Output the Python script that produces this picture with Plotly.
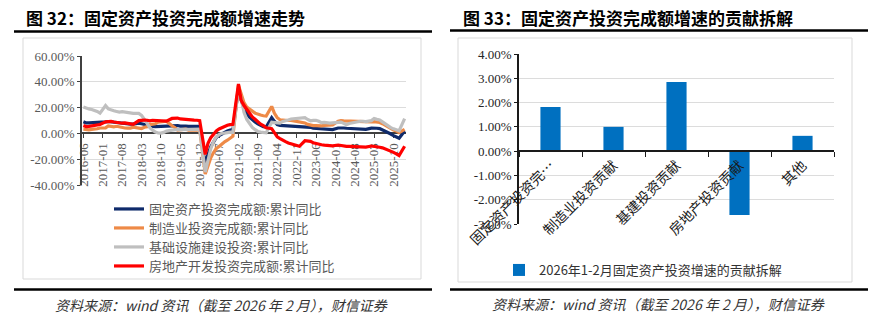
import plotly.graph_objects as go

W, H = 885, 321


def fx(x):
    return x / W


def fy(y):
    return 1 - y / H


# ---------------- data: left chart (cumulative YoY, %) ----------------
months = []
for yr in range(2016, 2027):
    for m in range(1, 13):
        if (yr == 2016 and m < 6) or (yr == 2026 and m > 2):
            continue
        months.append(f"{yr}-{m:02d}")

x_ticks = ["2016-06", "2017-01", "2017-08", "2018-03", "2018-10", "2019-05",
           "2019-12", "2020-07", "2021-02", "2021-09", "2022-04", "2022-11",
           "2023-06", "2024-01", "2024-08", "2025-03", "2025-10"]

fai = [9.0, 8.1, 8.1, 8.2, 8.3, 8.3, 8.1,
       None, 8.9, 9.2, 8.9, 8.6, 8.6, 8.3, 7.8, 7.5, 7.3, 7.2, 7.2,
       None, 7.9, 7.5, 7.0, 6.1, 6.0, 5.5, 5.3, 5.4, 5.7, 5.9, 5.9,
       None, 6.1, 6.3, 6.1, 5.6, 5.8, 5.7, 5.5, 5.4, 5.2, 5.2, 5.4,
       None, -24.5, -16.1, -10.3, -6.3, -3.1, -1.6, -0.3, 0.8, 1.8, 2.6, 2.9,
       None, 35.0, 25.6, 19.9, 15.4, 12.6, 10.3, 8.9, 7.3, 6.1, 5.2, 4.9,
       None, 12.2, 9.3, 6.8, 6.2, 6.1, 5.7, 5.8, 5.9, 5.8, 5.3, 5.1,
       None, 5.5, 5.1, 4.7, 4.0, 3.8, 3.4, 3.2, 3.1, 2.9, 2.9, 3.0,
       None, 4.2, 4.5, 4.2, 4.0, 3.9, 3.6, 3.4, 3.4, 3.4, 3.3, 3.2,
       None, 4.1, 4.2, 4.0, 3.7, 2.8, 1.6, 0.5, -0.5, -1.7, -2.6, -3.8,
       None, 1.8]

mfg = [3.3, 2.9, 2.8, 3.1, 3.1, 3.6, 4.2,
       None, 4.3, 5.8, 5.5, 5.1, 5.5, 4.9, 4.5, 4.2, 4.1, 4.1, 4.8,
       None, 4.3, 3.8, 4.8, 5.2, 6.8, 7.3, 7.5, 8.7, 9.1, 9.5, 9.5,
       None, 5.9, 4.6, 2.5, 2.7, 3.0, 3.3, 2.6, 2.5, 2.6, 2.5, 3.1,
       None, -31.5, -25.2, -18.8, -14.8, -11.7, -10.2, -8.1, -6.5, -5.3, -3.5, -2.2,
       None, 37.3, 29.8, 23.8, 20.4, 19.2, 17.3, 15.7, 14.8, 14.2, 13.7, 13.5,
       None, 20.9, 15.6, 12.2, 10.6, 10.4, 9.9, 10.0, 10.1, 9.7, 9.3, 9.1,
       None, 8.1, 7.0, 6.4, 6.0, 6.0, 5.7, 5.9, 6.2, 6.2, 6.3, 6.5,
       None, 9.4, 9.9, 9.7, 9.6, 9.5, 9.3, 9.1, 9.2, 9.3, 9.3, 9.2,
       None, 9.0, 9.1, 8.8, 8.5, 7.5, 6.2, 5.1, 4.0, 2.7, 1.9, 0.6,
       None, 3.1]

infra = [20.5, 19.5, 19.0, 18.5, 18.0, 17.0, 15.7,
         None, 21.5, 19.0, 18.0, 17.5, 17.0, 16.5, 16.8, 16.5, 16.0, 15.8, 15.5,
         None, 15.5, 14.0, 11.0, 7.5, 4.5, 2.5, 1.0, 0.3, 0.2, 0.8, 1.8,
         None, 2.5, 3.0, 3.0, 3.0, 3.0, 3.0, 3.0, 3.2, 3.3, 3.5, 3.3,
         None, -30.0, -19.7, -11.8, -6.3, -2.7, -1.0, 0.1, 0.2, 0.7, 1.0, 0.9,
         None, 35.0, 26.9, 16.4, 10.8, 7.8, 4.6, 2.9, 1.5, 1.0, 0.5, 0.4,
         None, 8.6, 8.5, 8.3, 7.9, 9.3, 9.6, 10.4, 11.2, 11.4, 11.7, 11.5,
         None, 12.2, 10.8, 9.8, 10.1, 10.2, 9.4, 8.3, 8.6, 8.0, 8.0, 8.2,
         None, 9.0, 8.8, 7.8, 6.7, 7.7, 8.1, 8.6, 9.3, 9.4, 9.4, 9.2,
         None, 9.9, 11.5, 10.9, 10.4, 8.9, 7.3, 5.4, 4.5, 3.5, 2.5, 2.0,
         None, 11.4]

realty = [6.1, 5.3, 5.4, 5.8, 6.6, 6.5, 6.9,
          None, 8.9, 9.1, 9.3, 8.8, 8.5, 7.9, 7.9, 8.1, 7.8, 7.5, 7.0,
          None, 9.9, 10.4, 10.3, 10.2, 9.7, 10.2, 10.1, 9.9, 9.7, 9.7, 9.5,
          None, 11.6, 11.8, 11.9, 11.2, 10.9, 10.6, 10.5, 10.5, 10.3, 10.2, 9.9,
          None, -16.3, -7.7, -3.3, -0.3, 1.9, 3.4, 4.6, 5.6, 6.3, 6.8, 7.0,
          None, 38.3, 25.6, 21.6, 18.3, 15.0, 12.7, 10.9, 8.8, 7.2, 6.0, 4.4,
          None, 3.7, 0.7, -2.7, -4.0, -5.4, -6.4, -7.4, -8.0, -8.8, -9.8, -10.0,
          None, -5.7, -5.8, -6.2, -7.2, -7.9, -8.5, -8.8, -9.1, -9.3, -9.4, -9.6,
          None, -9.0, -9.5, -9.8, -10.1, -10.1, -10.2, -10.2, -10.1, -10.3, -10.4, -10.6,
          None, -9.8, -9.9, -10.3, -10.7, -11.2, -12.0, -12.9, -13.9, -14.7, -15.9, -17.2,
          None, -10.0]

series_names = ["固定资产投资完成额:累计同比", "制造业投资完成额:累计同比",
                "基础设施建设投资:累计同比", "房地产开发投资完成额:累计同比"]
series_colors = ["#0E2A6B", "#EE8A47", "#BFBFBF", "#FF0000"]

left_yvals = [60, 40, 20, 0, -20, -40]
left_ytext = ["60.00%", "40.00%", "20.00%", "0.00%", "-20.00%", "-40.00%"]

# ---------------- data: right chart (contribution, %) ----------------
bar_cats = ["固定资产投资完…", "制造业投资贡献", "基建投资贡献", "房地产投资贡献", "其他"]
bar_vals = [1.82, 1.00, 2.85, -2.63, 0.63]
bar_name = "2026年1-2月固定资产投资增速的贡献拆解"
right_yvals = [4, 3, 2, 1, 0, -1, -2, -3]
right_ytext = ["4.00%", "3.00%", "2.00%", "1.00%", "0.00%", "-1.00%", "-2.00%", "-3.00%"]

SERIF = "Times New Roman, Liberation Serif, serif"
CJK = "Noto Sans CJK SC, sans-serif"

fig = go.Figure()

legend_keys = ["legend", "legend2", "legend3", "legend4"]
for vals, name, color, lk in zip([fai, mfg, infra, realty], series_names,
                                 series_colors, legend_keys):
    fig.add_trace(go.Scatter(x=months, y=vals, name=name, mode="lines",
                             line=dict(color=color, width=3.2),
                             connectgaps=True, xaxis="x", yaxis="y",
                             legend=lk, showlegend=True))

fig.add_trace(go.Bar(x=bar_cats, y=bar_vals, name=bar_name,
                     marker=dict(color="#0070C0", line=dict(width=0)),
                     xaxis="x2", yaxis="y2", legend="legend5", showlegend=True))

# plot-area geometry (pixels)
L_x0, L_x1, L_ytop, L_ybot = 82, 406, 56, 185
R_x0, R_x1, R_ytop, R_ybot = 519, 834, 54, 224

L_y0f, L_y1f = fy(L_ybot), fy(L_ytop)
R_y0f, R_y1f = fy(R_ybot), fy(R_ytop)

axis_col = "#404040"
fig.update_layout(
    width=W, height=H, autosize=False, showlegend=True,
    margin=dict(l=0, r=0, t=0, b=0, pad=0),
    paper_bgcolor="white", plot_bgcolor="white",
    bargap=0.68,
    xaxis=dict(domain=[fx(L_x0), fx(L_x1)], type="category",
               categoryorder="array", categoryarray=months,
               range=[-0.5, len(months) - 0.5],
               anchor="free", position=L_y0f + (L_y1f - L_y0f) * 0.4,
               tickmode="array", tickvals=x_ticks, ticktext=x_ticks,
               tickangle=-90, tickfont=dict(family=SERIF, size=13, color="#595959"),
               showline=True, linecolor=axis_col, linewidth=1.5,
               ticks="outside", ticklen=4, tickcolor=axis_col,
               showgrid=False, zeroline=False, automargin=False,
               layer="below traces"),
    yaxis=dict(domain=[L_y0f, L_y1f], range=[-40, 60],
               tickmode="array", tickvals=left_yvals, ticktext=left_ytext,
               tickfont=dict(family=SERIF, size=13, color="#595959"),
               showline=True, linecolor=axis_col, linewidth=1.5,
               ticks="outside", ticklen=3, tickcolor=axis_col,
               showgrid=True, gridcolor="#DCDCDC", gridwidth=1,
               zeroline=False, automargin=False, anchor="x"),
    xaxis2=dict(domain=[fx(R_x0), fx(R_x1)], type="category",
                anchor="free", position=R_y0f + (R_y1f - R_y0f) * 3 / 7,
                tickangle=-45, tickfont=dict(family=CJK, size=14, color="#1a1a1a"),
                showline=True, linecolor="#1a1a1a", linewidth=1.5,
                ticks="outside", ticklen=5, tickcolor="#1a1a1a",
                tickson="boundaries",
                showgrid=False, zeroline=False, automargin=False),
    yaxis2=dict(domain=[R_y0f, R_y1f], range=[-3, 4],
                tickmode="array", tickvals=right_yvals, ticktext=right_ytext,
                tickfont=dict(family=SERIF, size=13, color="#262626"),
                showline=True, linecolor="#1a1a1a", linewidth=1.5,
                ticks="outside", ticklen=3, tickcolor="#1a1a1a",
                showgrid=True, gridcolor="#DCDCDC", gridwidth=1,
                zeroline=False, automargin=False, anchor="x2"),
)

leg_common = dict(bgcolor="rgba(0,0,0,0)", borderwidth=0, xanchor="left",
                  yanchor="middle", font=dict(family=CJK, size=13, color="#595959"),
                  itemclick=False, itemdoubleclick=False, visible=True)
leg_y = [209, 228, 247, 266]
fig.update_layout(
    legend=dict(x=fx(109), y=fy(leg_y[0]), **leg_common),
    legend2=dict(x=fx(109), y=fy(leg_y[1]), **leg_common),
    legend3=dict(x=fx(109), y=fy(leg_y[2]), **leg_common),
    legend4=dict(x=fx(109), y=fy(leg_y[3]), **leg_common),
    legend5=dict(x=fx(499), y=fy(270), bgcolor="rgba(0,0,0,0)", borderwidth=0,
                 xanchor="left", yanchor="middle", itemwidth=30,
                 font=dict(family=CJK, size=13, color="#333333")),
)

shapes = []
# panel frames
shapes.append(dict(type="rect", xref="paper", yref="paper",
                   x0=fx(23), x1=fx(421), y0=fy(279), y1=fy(38),
                   line=dict(color="#D9D9D9", width=1), layer="below"))
shapes.append(dict(type="rect", xref="paper", yref="paper",
                   x0=fx(458), x1=fx(852), y0=fy(282), y1=fy(38),
                   line=dict(color="#D9D9D9", width=1), layer="below"))
# title / source rules
for (x0, x1, y) in [(14, 432, 31.5), (14, 432, 289.5), (450, 868, 30.5), (450, 868, 289.5)]:
    shapes.append(dict(type="line", xref="paper", yref="paper",
                       x0=fx(x0), x1=fx(x1), y0=fy(y), y1=fy(y),
                       line=dict(color="black", width=2.5)))
fig.update_layout(shapes=shapes)

annotations = [
    dict(text="<b>图 32：固定资产投资完成额增速走势</b>", x=fx(24), y=fy(17),
         xanchor="left", yanchor="middle", showarrow=False,
         font=dict(family=CJK, size=17, color="black")),
    dict(text="<b>图 33：固定资产投资完成额增速的贡献拆解</b>", x=fx(461), y=fy(17),
         xanchor="left", yanchor="middle", showarrow=False,
         font=dict(family=CJK, size=17, color="black")),
    dict(text="<i>资料来源：wind 资讯（截至 2026 年 2 月），财信证券</i>",
         x=fx(221), y=fy(305), xanchor="center", yanchor="middle", showarrow=False,
         font=dict(family=CJK, size=14, color="#333333")),
    dict(text="<i>资料来源：wind 资讯（截至 2026 年 2 月），财信证券</i>",
         x=fx(658), y=fy(304), xanchor="center", yanchor="middle", showarrow=False,
         font=dict(family=CJK, size=14, color="#333333")),
]
for a in annotations:
    a["xref"] = "paper"
    a["yref"] = "paper"
fig.update_layout(annotations=annotations)

fig.write_html("out.html")
